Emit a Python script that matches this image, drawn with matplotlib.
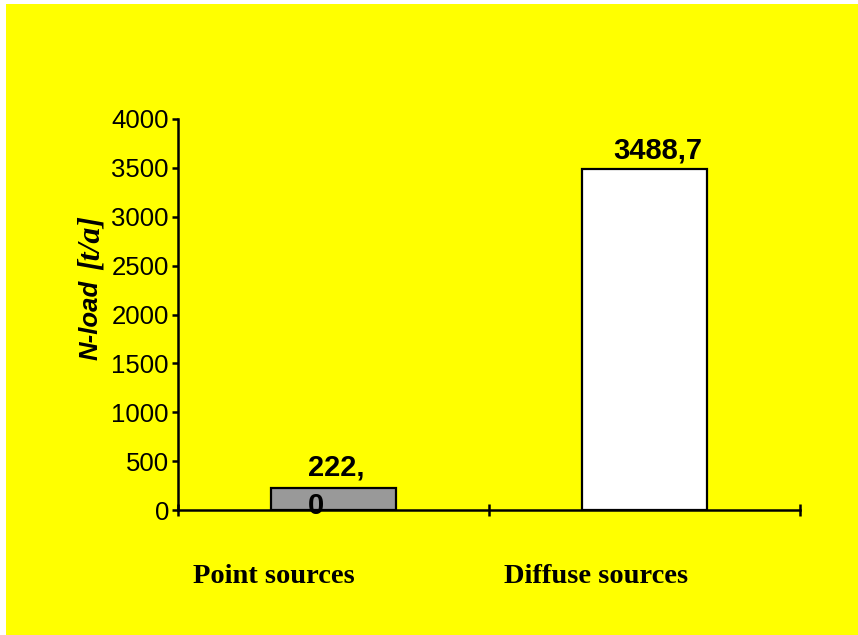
import matplotlib.pyplot as plt
from matplotlib.patches import Rectangle

# Data
categories = ["Point sources", "Diffuse sources"]
values = [222.0, 3488.7]
value_labels = ["222,\n0", "3488,7"]
bar_colors = ["#999999", "#FFFFFF"]
y_ticks = [0, 500, 1000, 1500, 2000, 2500, 3000, 3500, 4000]

fig = plt.figure(figsize=(8.58, 6.35), dpi=100)
fig.patch.set_facecolor("white")

# yellow chart area
fig.patches.append(Rectangle((6 / 858, 0), 1 - 6 / 858, 1 - 4 / 635,
                             transform=fig.transFigure, facecolor="#FFFF00",
                             edgecolor="none", zorder=-1))

ax = fig.add_axes([178 / 858, 1 - 510 / 635, 622 / 858, 391 / 635])
ax.set_facecolor("none")

x = list(range(len(categories)))
ax.bar(x, values, width=0.4, color=bar_colors, edgecolor="black", linewidth=1.6)

# value labels: first line sits ~10px above the bar top
label_dx = [3, 13]
line_px = 36
for i, (v, lab) in enumerate(zip(values, value_labels)):
    dy = 10 - line_px * lab.count("\n")
    ax.annotate(lab, xy=(i, v), xytext=(label_dx[i], dy), textcoords="offset pixels",
                ha="center", va="baseline", multialignment="left",
                fontsize=21, fontweight="bold", family="Liberation Sans",
                linespacing=1.5)

ax.set_xlim(-0.5, len(categories) - 0.5)
ax.set_ylim(0, 4000)
ax.set_yticks(y_ticks)
ax.set_yticklabels([str(t) for t in y_ticks], family="Liberation Sans", fontsize=18.5)
ax.set_xticks([i - 0.5 for i in range(len(categories) + 1)])
ax.set_xticklabels([])

for s in ["top", "right"]:
    ax.spines[s].set_visible(False)
for s in ["left", "bottom"]:
    ax.spines[s].set_linewidth(1.8)

ax.tick_params(axis="y", direction="out", length=4.5, width=1.8, pad=2)
ax.tick_params(axis="x", direction="inout", length=9, width=1.8)

# category labels under the axis
for i, c in enumerate(categories):
    ax.text(i - 0.453, -0.17, c, transform=ax.get_xaxis_transform(),
            ha="left", va="center", fontsize=20.5, fontweight="bold",
            family="Liberation Serif")

# y label with mixed fonts
ax.text(-0.14, 0.384, "N-load", transform=ax.transAxes, rotation=90,
        ha="center", va="bottom", fontsize=18.5, fontweight="bold",
        fontstyle="italic", family="Liberation Sans")
ax.text(-0.14, 0.615, "[t/a]", transform=ax.transAxes, rotation=90,
        ha="center", va="bottom", fontsize=23, fontstyle="italic",
        fontweight="bold", family="Liberation Serif")

fig.savefig("out.png", dpi=100)
